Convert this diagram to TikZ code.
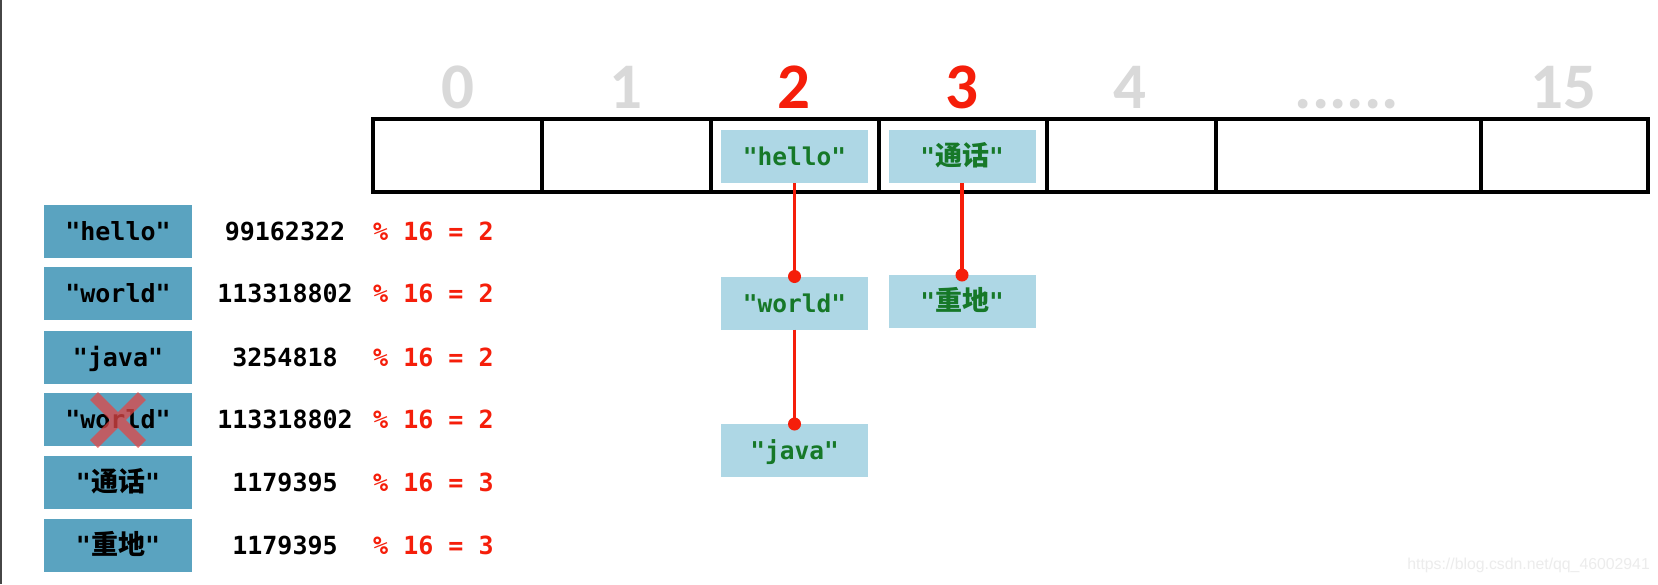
\documentclass[tikz,border=0pt]{standalone}
\usepackage{fontspec}
\newfontfamily\mono{DejaVu Sans Mono}
\newfontfamily\cjkfam{Noto Sans CJK SC}
\newcommand{\cjkbig}[1]{{\cjkfam\fontsize{27}{30}\selectfont #1}}
\newfontfamily\idxfont{Carlito}
\newfontfamily\wmfont{Liberation Sans}
\definecolor{keyblue}{RGB}{90,163,192}
\definecolor{chainblue}{RGB}{174,215,229}
\definecolor{chaingreen}{RGB}{22,120,40}
\definecolor{hred}{RGB}{245,30,10}
\definecolor{idxgray}{RGB}{217,217,217}
\definecolor{xred}{RGB}{225,70,70}
\definecolor{edgegray}{RGB}{70,70,70}
\definecolor{wmgray}{RGB}{236,236,236}
\tikzset{
  cell/.style={draw=black, line width=3.3pt, minimum height=73pt, inner sep=0pt, outer sep=0pt},
  idx/.style={font=\idxfont\bfseries\fontsize{65}{70}\selectfont, text=idxgray, inner sep=0pt, anchor=base},
  idxhot/.style={idx, text=hred},
  keybox/.style={fill=keyblue, minimum width=148pt, minimum height=53pt, inner sep=0pt, outer sep=0pt,
    font=\mono\bfseries\fontsize{25}{30}\selectfont, text=black, text height=18.3pt, text depth=0pt},
  chainbox/.style={fill=chainblue, minimum width=147pt, minimum height=53pt, inner sep=0pt, outer sep=0pt,
    font=\mono\bfseries\fontsize{24.5}{30}\selectfont, text=chaingreen, text height=18pt, text depth=0pt},
  hashnum/.style={font=\mono\bfseries\fontsize{25}{30}\selectfont, text=black, inner sep=0pt, text height=18.3pt, text depth=0pt},
  modtext/.style={hashnum, text=hred, anchor=west},
  link/.style={draw=hred, line width=3.5pt},
  dot/.style={fill=hred},
}
\begin{document}
\begin{tikzpicture}[x=1pt,y=-1pt]
\useasboundingbox (0,0) rectangle (1658,584);
\fill[white] (0,0) rectangle (1658,584);
\fill[edgegray] (0,0) rectangle (2.2,584);

% array cells
\node[cell, minimum width=169pt] (c0) at (457.5,155.5) {};
\node[cell, minimum width=169pt] (c1) at (626.5,155.5) {};
\node[cell, minimum width=168pt] (c2) at (795,155.5) {};
\node[cell, minimum width=168pt] (c3) at (963,155.5) {};
\node[cell, minimum width=169pt] (c4) at (1131.5,155.5) {};
\node[cell, minimum width=265pt] (c5) at (1348.5,155.5) {};
\node[cell, minimum width=167pt] (c6) at (1564.5,155.5) {};

% index labels
\node[idx] (l0) at (457.5,108) {0};
\node[idx] (l1) at (626,108) {1};
\node[idxhot] (l2) at (794,108) {2};
\node[idxhot] (l3) at (962,108) {3};
\node[idx] (l4) at (1130,108) {4};
\node[idx] (l5) at (1347,108) {......};
\node[idx] (l6) at (1563,108) {15};

% bucket contents
\node[chainbox] (hello) at (794.5,156.5) {"hello"};
\node[chainbox] (tonghua) at (962,156.5) {"\cjkbig{通话}"};
\node[chainbox] (world) at (794.5,303) {"world"};
\node[chainbox] (zhongdi) at (962,301.5) {"\cjkbig{重地}"};
\node[chainbox] (java) at (794.5,450.5) {"java"};

\draw[link] (hello.south) -- (world.north);
\fill[dot] (world.north) circle[radius=6.5];
\draw[link] (world.south) -- (java.north);
\fill[dot] (java.north) circle[radius=6.5];
\draw[link] (tonghua.south) -- (zhongdi.north);
\fill[dot] (zhongdi.north) circle[radius=6.5];

% keys
\node[keybox] (k1) at (118,231) {"hello"};
\node[keybox] (k2) at (118,293.5) {"world"};
\node[keybox] (k3) at (118,357) {"java"};
\node[keybox] (k4) at (118,419.5) {"world"};
\node[keybox] (k5) at (118,482.5) {"\cjkbig{通话}"};
\node[keybox] (k6) at (118,545) {"\cjkbig{重地}"};

\node[hashnum] (h1) at (285,231) {99162322};
\node[hashnum] (h2) at (285,293.5) {113318802};
\node[hashnum] (h3) at (285,357) {3254818};
\node[hashnum] (h4) at (285,419.5) {113318802};
\node[hashnum] (h5) at (285,482.5) {1179395};
\node[hashnum] (h6) at (285,545) {1179395};

\node[modtext] (m1) at (373,231) {\% 16 = 2};
\node[modtext] (m2) at (373,293.5) {\% 16 = 2};
\node[modtext] (m3) at (373,357) {\% 16 = 2};
\node[modtext] (m4) at (373,419.5) {\% 16 = 2};
\node[modtext] (m5) at (373,482.5) {\% 16 = 3};
\node[modtext] (m6) at (373,545) {\% 16 = 3};

% cross over duplicate key
\draw[xred, line width=11pt, opacity=0.75] (94,396) -- (142,444) (142,396) -- (94,444);

% watermark
\node[anchor=base east, font=\wmfont\fontsize{15.8}{18}\selectfont, text=wmgray, inner sep=0pt] (wm) at (1650,569) {https://blog.csdn.net/qq\_46002941};
\end{tikzpicture}
\end{document}
